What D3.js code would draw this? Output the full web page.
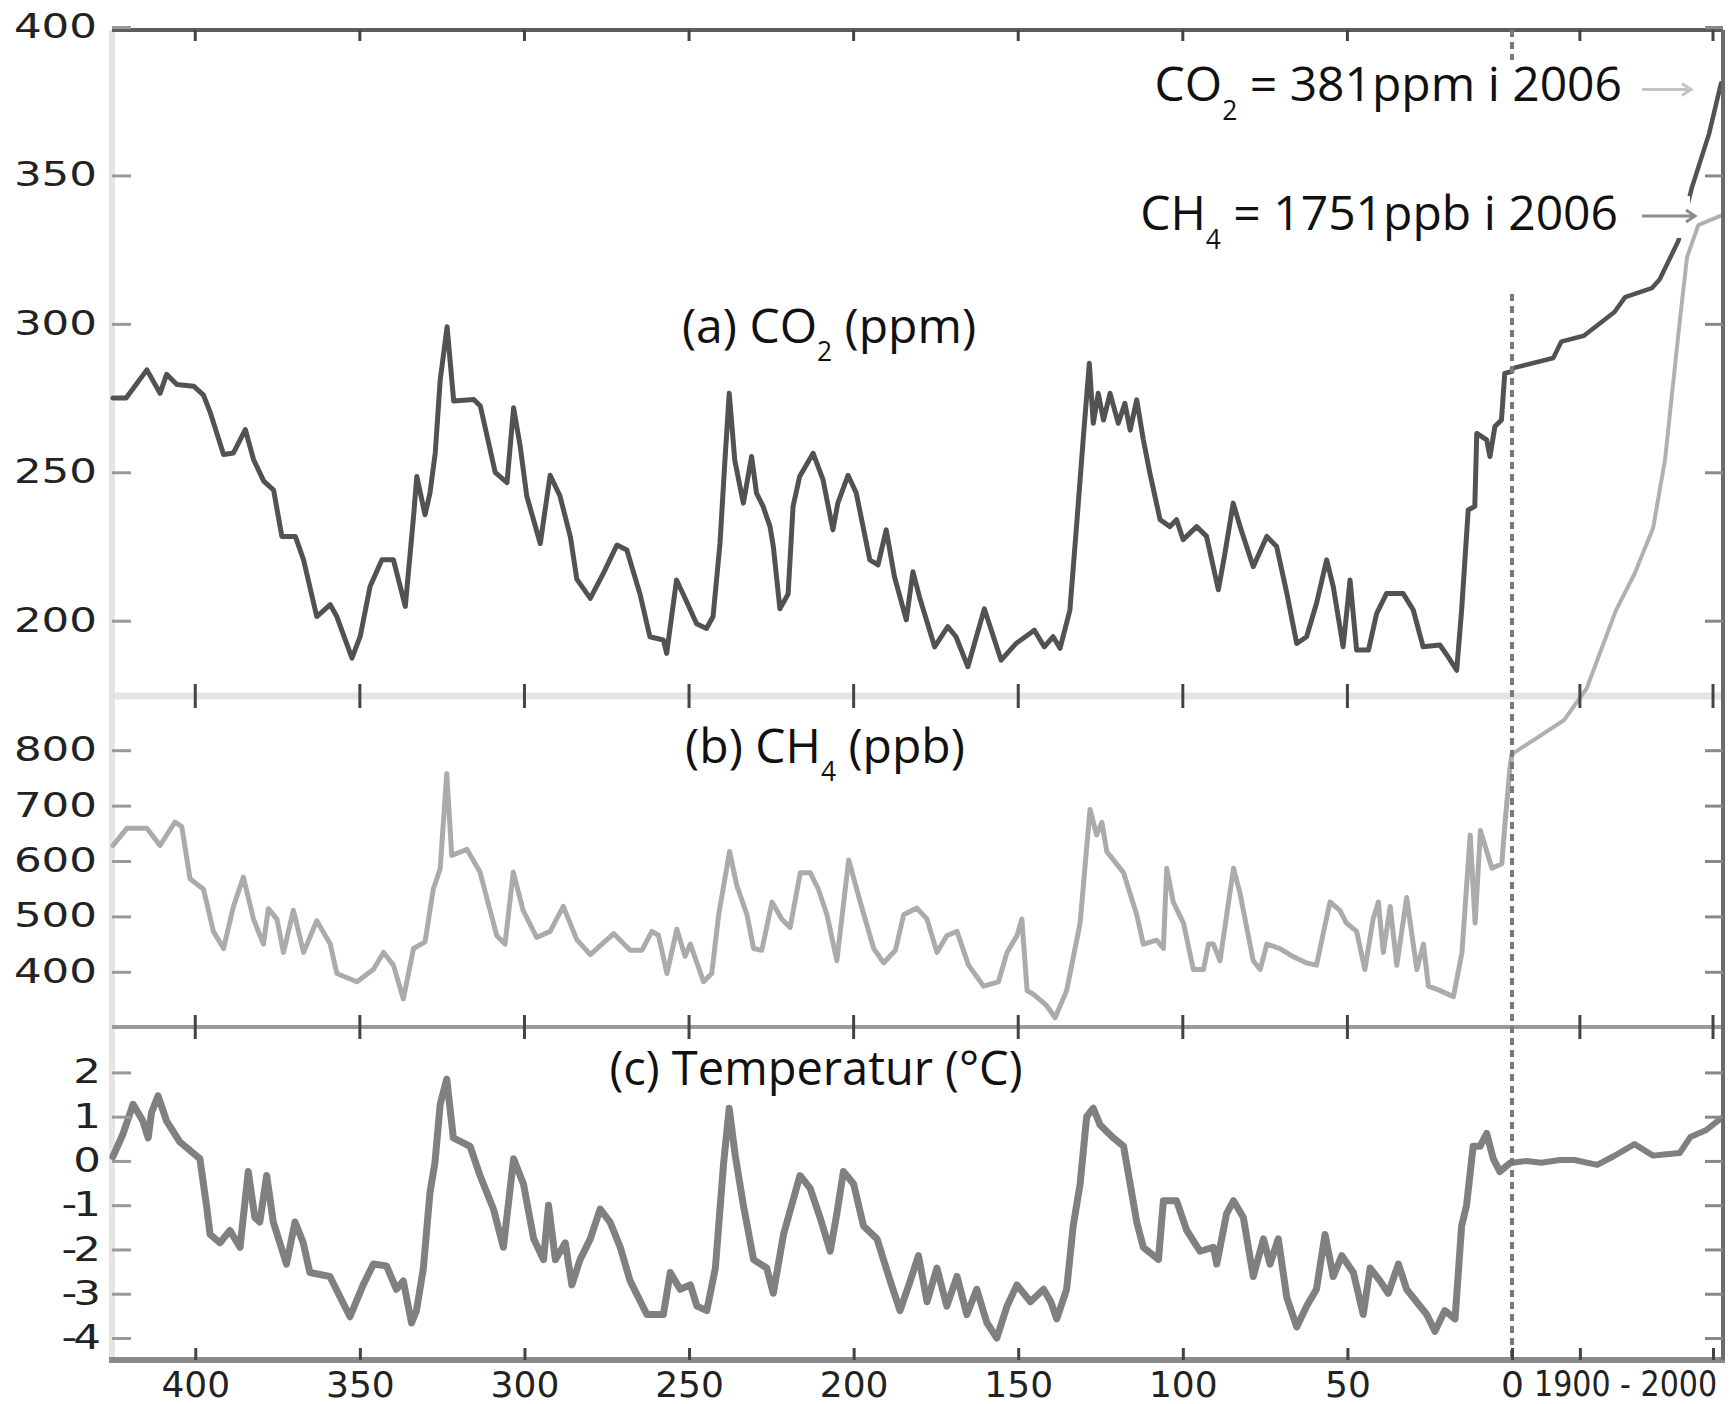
<!DOCTYPE html>
<html><head><meta charset="utf-8">
<script src="https://cdn.jsdelivr.net/npm/d3@7"></script>
<style>body{margin:0;background:#fff}svg{display:block}</style>
</head><body>
<svg id="c" width="1735" height="1404"></svg>
<script>
// ---- data (age in kyr before present, value) ----
const co2Paleo = [[425,275],[421,275],[414.7,284.5],[410.7,276.6],[408.7,283],[405.6,279.6],[400.5,279],[397.5,276],[395.4,270],[391.4,256],[388.4,256.5],[384.8,264.4],[382.3,254.3],[379.2,247],[376.2,244],[373.7,228.4],[369.6,228.4],[367.1,220.5],[363.1,201.4],[359,205.4],[357,201.4],[352.4,187.4],[349.9,194.7],[346.9,211.5],[343.3,220.5],[339.8,220.5],[336.2,204.8],[333.7,235],[332.7,248.6],[330.2,235.7],[328.7,243],[327.1,256.5],[325.6,281],[323.5,299],[321.5,274],[315.4,274.5],[313.4,272.3],[308.9,250],[305.3,246.5],[303.3,271.7],[301.3,258.8],[299.3,242],[295.2,226],[292.2,249],[289.2,242],[286,228],[284.1,214],[280,207.5],[276,216],[271.9,225.5],[268.9,223.8],[264.9,209],[261.9,194.6],[257.8,193.5],[256.8,189],[253.8,213.7],[251.8,209],[247.7,199],[244.7,197.4],[242.7,201.4],[240.6,226],[239.1,254],[237.8,276.6],[236.1,254],[233.5,239.6],[231,255.3],[229.5,243],[227.5,238.5],[225.4,231.7],[224.4,225],[222.4,204],[219.9,209],[218.4,238.5],[216.4,248.6],[212.3,256.4],[209.3,247.5],[206.3,230.6],[204.8,239.6],[201.7,249],[199.2,243],[195.1,220.5],[192.6,218.8],[190.1,230.6],[187.6,214.8],[184,200.3],[182,216.5],[180,208],[175.4,191.2],[171.4,198],[168.9,194.6],[165.3,184.5],[160.3,204],[155.2,186.7],[150.7,192.3],[145.1,196.8],[142.1,191.2],[139.4,194.6],[137.3,190.7],[134.3,203.6],[132.3,231.7],[130.2,262],[128.4,286.7],[127.2,266.5],[125.7,276.6],[124.1,267.6],[122.1,276.6],[119.6,266.5],[117.6,273.2],[116,264.2],[114,274.4],[112,261],[110,249.7],[106.9,234],[103.9,231.7],[101.9,234],[99.9,227.3],[95.8,231.7],[92.8,228.4],[89.2,210.4],[87.2,222.7],[84.7,239.6],[82.6,231.7],[78.6,218.2],[74.5,228.4],[71.5,225],[68.4,209.2],[65.4,192.3],[62.4,194.6],[59.4,205.8],[56.3,220.5],[54.3,211.5],[51.3,191.2],[49.2,213.7],[47.2,190.1],[43.6,190.1],[41.1,202.5],[38.1,209.2],[33.1,209.2],[30,203.6],[27,191.2],[21.9,191.8],[19.4,187.8],[16.8,183.3],[15.3,203.6],[13.3,237.3],[11.3,238.5],[10.7,263.1],[7.7,260.9],[6.7,255.3],[5.2,265.4],[3.2,267.6],[2.2,283.3],[0,284]];

const ch4Paleo = [[425,628],[420.8,659],[414.7,659],[410.7,628],[406.2,670],[404.1,662],[401.6,568],[397.5,549],[394.5,473],[391.4,442],[388.4,518],[385.4,571],[382.3,495],[379.3,450],[377.8,514],[375.2,495],[373.2,435],[370.2,511],[367.1,435],[363.1,492],[359,450],[357,397],[350.9,382],[345.9,404],[342.8,435],[339.8,412],[336.8,351],[333.7,442],[330.2,454],[327.7,549],[325.6,586],[323.6,758],[322.1,610],[317.5,621],[313.5,580],[308.4,465],[305.9,450],[303.4,580],[300.4,511],[296.3,462],[292.2,473],[288.2,518],[284.1,458],[280,431],[272.9,469],[267.9,439],[264.3,439],[261.3,473],[259.3,466],[256.7,397],[253.7,477],[251.2,428],[249.6,450],[245.6,382],[243.1,397],[241,503],[237.7,617],[235.5,556],[232.4,503],[230.4,442],[227.9,439],[224.8,526],[221.8,495],[219.3,480],[216.2,579],[213.2,579],[210.7,549],[208.1,503],[205.1,420],[201.5,602],[198,526],[193.9,442],[190.9,416],[187.3,439],[184.8,503],[180.8,515],[177.7,495],[174.7,435],[171.7,465],[168.6,473],[165.1,412],[160.5,374],[156,382],[153.4,435],[150.4,465],[148.9,495],[147.3,366],[145.3,359],[141.5,340],[138.8,317],[135.3,366],[131.2,488],[128.2,693],[126.2,647],[124.6,670],[123.1,617],[118,579],[114,503],[112,450],[107.9,457],[105.9,442],[104.9,587],[102.9,526],[99.8,488],[96.8,404],[93.7,404],[92.2,450],[90.7,450],[88.7,420],[84.6,587],[82.6,541],[78.6,420],[76.5,404],[74.5,450],[70.5,442],[66.4,427],[62.4,416],[59.4,412],[55.3,526],[52.3,511],[50.3,488],[47.2,473],[44.7,404],[42.2,495],[40.6,526],[39.1,435],[37,518],[35,412],[32,534],[28.9,404],[26.9,450],[25.4,374],[21.8,366],[17.8,355],[15.2,435],[12.7,647],[11.2,488],[9.6,655],[6.1,587],[3.1,595],[2.1,670],[0.6,769],[0,793]];

const tempPaleo = [[425,0.1],[421.9,0.62],[418.9,1.28],[415.9,0.9],[414.3,0.52],[413.3,1.09],[411.3,1.47],[408.7,0.9],[404.7,0.43],[398.6,0.05],[396.6,-1.0],[395.5,-1.66],[392.5,-1.85],[389.5,-1.57],[386.4,-1.95],[383.9,-0.24],[381.9,-1.28],[380.4,-1.38],[378.3,-0.33],[376.3,-1.38],[372.3,-2.33],[369.7,-1.38],[367.2,-1.85],[365.2,-2.52],[359.1,-2.61],[353,-3.52],[349,-2.8],[345.9,-2.33],[341.9,-2.37],[338.9,-2.9],[336.8,-2.71],[334.3,-3.66],[332.8,-3.38],[330.7,-2.42],[328.7,-0.71],[327.2,-0.05],[325.6,1.28],[323.6,1.85],[321.6,0.52],[316.5,0.33],[313.5,-0.33],[309.4,-1.09],[306.4,-1.95],[303.3,0.05],[300.3,-0.52],[297.2,-1.76],[294.2,-2.23],[292.7,-1.0],[290.6,-2.23],[287.6,-1.85],[285.6,-2.8],[283.1,-2.23],[280,-1.76],[277,-1.09],[274,-1.38],[270.9,-1.95],[267.9,-2.71],[262.8,-3.47],[257.8,-3.47],[255.7,-2.52],[252.7,-2.9],[249.6,-2.8],[247.6,-3.28],[244.6,-3.38],[242,-2.42],[239.5,-0.05],[237.8,1.19],[236,0.14],[233.5,-1.0],[230.4,-2.23],[226.4,-2.42],[224.4,-2.99],[221.3,-1.66],[216.3,-0.33],[213.2,-0.62],[210.2,-1.28],[207.1,-2.04],[205.1,-1.19],[203.1,-0.24],[200,-0.52],[197,-1.47],[192.9,-1.76],[188.9,-2.71],[185.9,-3.38],[182.8,-2.71],[180.3,-2.14],[177.7,-3.18],[174.7,-2.42],[171.7,-3.28],[168.6,-2.61],[165.6,-3.47],[162.6,-2.9],[159.5,-3.66],[156.5,-4.0],[153.4,-3.28],[150.4,-2.8],[146.3,-3.18],[142.3,-2.9],[140,-3.2],[138.3,-3.57],[135.3,-2.9],[133.3,-1.47],[131.2,-0.52],[129.2,1.0],[127.2,1.19],[125.1,0.81],[121.1,0.52],[118,0.33],[116,-0.52],[114,-1.38],[112,-1.95],[107.4,-2.23],[105.9,-0.9],[101.9,-0.9],[98.8,-1.57],[94.8,-2.04],[90.7,-1.95],[89.7,-2.33],[86.7,-1.19],[84.6,-0.9],[81.6,-1.28],[78.6,-2.61],[75.5,-1.76],[73.5,-2.33],[71,-1.76],[68.4,-3.09],[65.4,-3.75],[62.4,-3.28],[59.4,-2.9],[56.8,-1.66],[54.3,-2.61],[51.7,-2.14],[48.2,-2.52],[45.2,-3.47],[43.1,-2.42],[40.1,-2.71],[37.6,-2.99],[34.5,-2.33],[32,-2.9],[29,-3.18],[25.9,-3.47],[23.4,-3.85],[20.4,-3.38],[17.3,-3.57],[15.3,-1.47],[13.8,-1.0],[11.8,0.33],[9.7,0.33],[7.7,0.62],[5.7,0.05],[3.7,-0.24],[0.6,-0.05],[0,-0.04]];

// modern section (calendar year, value)
const co2Modern = [[1849,285],[1880,288.5],[1886,294],[1903,296],[1926,304],[1934,309],[1954,312],[1960,315],[1974,328],[1984,345.7],[1997,364],[2006,381]];
const ch4Modern = [[1849,793],[1888,854],[1905,911],[1927,1052],[1941,1118],[1955,1201],[1964,1325],[1969.5,1450],[1975,1574],[1980.5,1690],[1989,1748],[2006,1765]];
const tempModern = [[1849,-0.04],[1860,0.0],[1871,-0.04],[1885,0.02],[1896,0.02],[1913,-0.09],[1925,0.1],[1941,0.38],[1955,0.12],[1965,0.15],[1975,0.18],[1983,0.54],[1995,0.7],[2006,0.96]];

// ticks & labels
const ageTicks = [400,350,300,250,200,150,100,50,0];
const yearTicks = [1900,2000];
const yearLabel = "1900 - 2000";
const co2Ticks = [200,250,300,350,400];
const ch4Ticks = [400,500,600,700,800];
const tempTicks = [-4,-3,-2,-1,0,1,2];

// ---- layout ----
const L = 112, R = 1723, T = 30, AB = 696, BC = 1027, B = 1360;
const xAge = d3.scaleLinear().domain([425.6, 0]).range([L - 1, 1512]);
const xYear = d3.scaleLinear().domain([1849, 2006]).range([1512, 1721]);
const yCO2 = d3.scaleLinear().domain([200, 400]).range([620.7, 27]);
const yCH4 = d3.scaleLinear().domain([400, 800]).range([971.8, 750.2]);
const yT = d3.scaleLinear().domain([-4, 2]).range([1338, 1072.4]);

const svg = d3.select('#c');
svg.append('rect').attr('width', 1735).attr('height', 1404).attr('fill', '#fff');

// frame
const frame = svg.append('g');
frame.append('line').attr('x1', L).attr('x2', L).attr('y1', T).attr('y2', B).attr('stroke', '#e6e6e6').attr('stroke-width', 6);
frame.append('line').attr('x1', L).attr('x2', R).attr('y1', AB).attr('y2', AB).attr('stroke', '#e4e4e4').attr('stroke-width', 7);
frame.append('line').attr('x1', L).attr('x2', R).attr('y1', BC).attr('y2', BC).attr('stroke', '#9a9a9a').attr('stroke-width', 4);

// series
const lineAge = y => d3.line().x(d => xAge(d[0])).y(d => y(d[1]));
const lineYear = y => d3.line().x(d => xYear(d[0])).y(d => y(d[1]));
const series = [
  [tempPaleo, lineAge(yT), '#808080', 7],
  [tempModern, lineYear(yT), '#808080', 6],
  [ch4Paleo, lineAge(yCH4), '#ababab', 5],
  [ch4Modern, lineYear(yCH4), '#b0b0b0', 4],
  [co2Paleo, lineAge(yCO2), '#525252', 5],
  [co2Modern, lineYear(yCO2), '#525252', 4.5]
];
series.forEach(([d, gen, c, w]) => {
  svg.append('path').attr('d', gen(d)).attr('fill', 'none').attr('stroke', c)
    .attr('stroke-width', w).attr('stroke-linejoin', 'round').attr('stroke-linecap', 'round');
});

// outer borders drawn over
svg.append('line').attr('x1', L).attr('x2', R).attr('y1', T).attr('y2', T).attr('stroke', '#5c5c5c').attr('stroke-width', 4);
svg.append('line').attr('x1', L - 3).attr('x2', R + 2).attr('y1', B).attr('y2', B).attr('stroke', '#8a8a8a').attr('stroke-width', 6);
svg.append('line').attr('x1', R).attr('x2', R).attr('y1', T).attr('y2', B).attr('stroke', '#6a6a6a').attr('stroke-width', 4);

// dashed line at age 0
[[T, 60], [294, B]].forEach(([a, b]) => {
  svg.append('line').attr('x1', xAge(0)).attr('x2', xAge(0)).attr('y1', a).attr('y2', b)
    .attr('stroke', '#7a7a7a').attr('stroke-width', 4).attr('stroke-dasharray', '7,5');
});

// x ticks on boundaries
const xt = ageTicks.filter(d => d > 0).map(d => xAge(d)).concat(yearTicks.map(d => xYear(d)));
const tickG = svg.append('g').attr('stroke', '#444').attr('stroke-width', 3);
[[T, T + 11], [AB - 12, AB + 12], [BC - 12, BC + 12]].forEach(([a, b]) => {
  tickG.selectAll(null).data(xt).join('line').attr('x1', d => d).attr('x2', d => d).attr('y1', a).attr('y2', b);
});

// bottom axis
const gx = svg.append('g').attr('transform', `translate(0,${B})`)
  .call(d3.axisBottom(xAge).tickValues(ageTicks).tickSize(-12).tickPadding(11).tickFormat(d => String(d)));
gx.select('.domain').remove();
gx.selectAll('.tick line').attr('stroke', '#444').attr('stroke-width', 3);
gx.selectAll('.tick text').attr('font-family', 'DejaVu Sans').attr('font-size', 36).attr('fill', '#222');
const gxy = svg.append('g').attr('transform', `translate(0,${B})`)
  .call(d3.axisBottom(xYear).tickValues(yearTicks).tickSize(-12).tickFormat(''));
gxy.select('.domain').remove();
gxy.selectAll('.tick line').attr('stroke', '#444').attr('stroke-width', 3);
svg.append('text').attr('transform', 'translate(1534,1396) scale(0.86,1)')
  .attr('font-family', 'DejaVu Sans').attr('font-size', 35).attr('fill', '#222').text(yearLabel);

// y axes
const SX = 1.32;
function yAxis(scale, ticks) {
  const g = svg.append('g').attr('transform', `translate(${L},0)`)
    .call(d3.axisLeft(scale).tickValues(ticks).tickSize(-19).tickPadding(15).tickFormat(d => String(d)));
  g.select('.domain').remove();
  g.selectAll('.tick line').attr('stroke', '#999').attr('stroke-width', 3);
  g.selectAll('.tick text').attr('font-family', 'DejaVu Sans').attr('font-size', 33).attr('fill', '#222')
    .attr('x', -15 / SX).attr('transform', `scale(${SX},1)`);
  const r = svg.append('g').attr('transform', `translate(${R},0)`)
    .call(d3.axisRight(scale).tickValues(ticks).tickSize(-18).tickFormat(''));
  r.select('.domain').remove();
  r.selectAll('.tick line').attr('stroke', '#888').attr('stroke-width', 3);
  return g;
}
yAxis(yCO2, co2Ticks);
yAxis(yCH4, ch4Ticks);
yAxis(yT, tempTicks).selectAll('.tick text').attr('letter-spacing', -3);

// titles and annotations
const font = "'Open Sans', 'Noto Sans', sans-serif";
function mk(x, y, size, anchor, a, s, b, dy) {
  const t = svg.append('text').attr('x', x).attr('y', y).attr('font-family', font)
    .attr('font-size', size).attr('fill', '#111').attr('text-anchor', anchor);
  t.append('tspan').text(a);
  if (s) {
    t.append('tspan').attr('font-size', size * 0.55).attr('dy', dy).text(s);
    t.append('tspan').attr('dy', -dy).text(b);
  }
}
mk(829, 343, 48, 'middle', '(a) CO', '2', ' (ppm)', 18);
mk(825, 763, 48, 'middle', '(b) CH', '4', ' (ppb)', 18);
mk(816, 1085, 47, 'middle', '(c) Temperatur (°C)', '', '', 0);

svg.append('rect').attr('x', 1634).attr('y', 196).attr('width', 56).attr('height', 42).attr('fill', '#fff');
mk(1622, 101, 48, 'end', 'CO', '2', ' = 381ppm i 2006', 19);
mk(1618, 230, 48, 'end', 'CH', '4', ' = 1751ppb i 2006', 19);
function arrow(x1, x2, y, c) {
  const g = svg.append('g').attr('stroke', c).attr('stroke-width', 3).attr('fill', 'none');
  g.append('line').attr('x1', x1).attr('x2', x2).attr('y1', y).attr('y2', y);
  g.append('path').attr('d', `M${x2 - 9},${y - 6}L${x2},${y}L${x2 - 9},${y + 6}`);
}
arrow(1642, 1691, 89.5, '#c4c4c4');
arrow(1642, 1695, 216, '#8c8c8c');
</script>
</body></html>
